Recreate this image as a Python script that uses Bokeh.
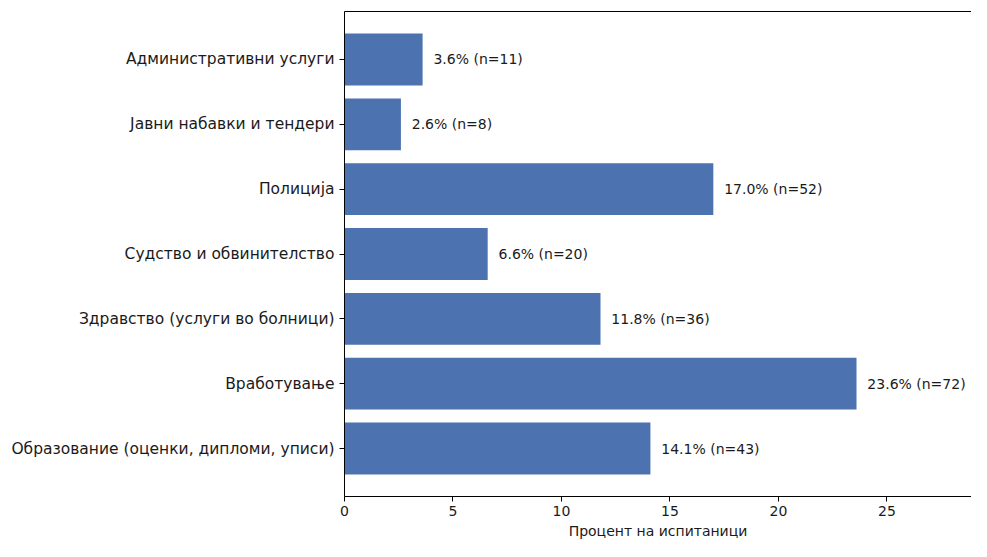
from bokeh.plotting import figure
from bokeh.models import ColumnDataSource, Range1d, FixedTicker, LinearAxis
from bokeh.embed import file_html
from bokeh.resources import INLINE

categories = [
    "Административни услуги",
    "Јавни набавки и тендери",
    "Полиција",
    "Судство и обвинителство",
    "Здравство (услуги во болници)",
    "Вработување",
    "Образование (оценки, дипломи, уписи)",
]
percents = [3.6, 2.6, 17.0, 6.6, 11.8, 23.6, 14.1]
counts = [11, 8, 52, 20, 36, 72, 43]
x_ticks = [0, 5, 10, 15, 20, 25]

n = len(categories)
ypos = [n - 1 - i for i in range(n)]
labels = [f"{p:.1f}% (n={c})" for p, c in zip(percents, counts)]
label_x = [p + 0.5 for p in percents]

src = ColumnDataSource(dict(y=ypos, pct=percents, lab=labels, lx=label_x))

FONT = "DejaVu Sans"
FS_Y = "15.5px"
FS = "14px"
TXT = "#1a1a1a"

p = figure(width=971, height=541, output_backend="svg", toolbar_location=None,
           x_range=Range1d(0, 28.9), y_range=Range1d(-0.74, n - 1 + 0.74),
           min_border_top=11, min_border_right=0, min_border_left=344, min_border_bottom=0)
p.outline_line_color = None
p.xgrid.grid_line_color = None
p.ygrid.grid_line_color = None

p.hbar(y="y", right="pct", left=0, height=0.8, source=src, color="#4C72B0", line_color=None)
p.text(x="lx", y="y", text="lab", source=src, text_baseline="middle", text_align="left",
       text_font_size=FS, text_font={"value": FONT}, text_color=TXT)

xa = p.xaxis[0]
xa.ticker = FixedTicker(ticks=x_ticks)
xa.axis_label = "Процент на испитаници"
xa.axis_label_text_font_style = "normal"
xa.axis_label_text_font = FONT
xa.axis_label_text_font_size = FS
xa.axis_label_text_color = TXT
xa.axis_label_standoff = 4
xa.major_label_text_font = FONT
xa.major_label_text_font_size = FS
xa.major_label_text_color = TXT
xa.major_label_standoff = 4
xa.major_tick_in = 0
xa.major_tick_out = 5
xa.minor_tick_line_color = None
xa.axis_line_color = "black"
xa.major_tick_line_color = "black"

ya = p.yaxis[0]
ya.ticker = FixedTicker(ticks=ypos)
ya.major_label_overrides = {y: c for y, c in zip(ypos, categories)}
ya.major_label_text_font = FONT
ya.major_label_text_font_size = FS_Y
ya.major_label_text_color = TXT
ya.major_label_standoff = 5
ya.major_tick_in = 0
ya.major_tick_out = 5
ya.minor_tick_line_color = None
ya.axis_line_color = "black"
ya.major_tick_line_color = "black"

top = LinearAxis(ticker=FixedTicker(ticks=[]), axis_line_color="black",
                 major_tick_line_color=None, minor_tick_line_color=None,
                 major_label_standoff=0, major_tick_out=0, major_tick_in=0)
p.add_layout(top, "above")

open("out.html", "w").write(file_html(p, INLINE))
